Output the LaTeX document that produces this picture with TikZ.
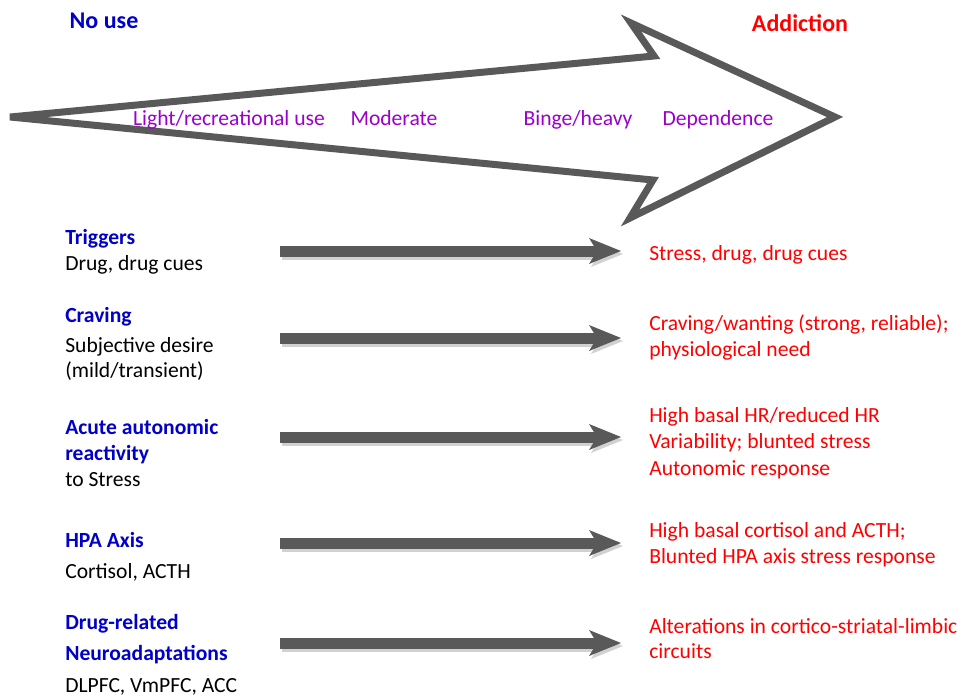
\documentclass[tikz,border=0pt]{standalone}
\usepackage{fontspec}
\setmainfont{Carlito}
\usetikzlibrary{arrows.meta}
\definecolor{arrowgray}{HTML}{595959}
\definecolor{titleblue}{HTML}{0000C8}
\definecolor{labred}{HTML}{FF0000}
\definecolor{labpurple}{HTML}{9900CC}
\tikzset{
  txt/.style={inner sep=0pt, anchor=base west, font=\fontsize{16.2}{19}\selectfont},
  head/.style={txt, text=titleblue, font=\fontsize{16.2}{19}\selectfont\bfseries},
  sub/.style={txt, text=black},
  res/.style={txt, text=labred},
  stage/.style={inner sep=0pt, anchor=base, text=labpurple, font=\fontsize{16.2}{19}\selectfont},
  title/.style={inner sep=0pt, anchor=base, font=\fontsize{18}{21}\selectfont\bfseries},
  bigarrow/.style={draw=arrowgray, line width=5.25pt},
  grayarrow/.style={draw=arrowgray, line width=8.25pt,
    -{Stealth[length=24pt,width=19.5pt,inset=6pt,line width=0pt]}},
  shadowarrow/.style={draw=black, opacity=0.18, line width=8.25pt,
    -{Stealth[length=24pt,width=19.5pt,inset=6pt,line width=0pt]}}
}
\begin{document}
\begin{tikzpicture}[x=0.75pt,y=-0.75pt]
\useasboundingbox (0,0) rectangle (963,697);
% big arrow
\coordinate (tail) at (10,117);
\coordinate (shu) at (654,56);
\coordinate (bu) at (631,23);
\coordinate (tip) at (835,117);
\coordinate (bl) at (630,218);
\coordinate (shl) at (653,180);
\draw[bigarrow] (tail) -- (shu) -- (bu) -- (tip) -- (bl) -- (shl) -- cycle;
% titles
\node[title, text=titleblue] (nouse) at (104,28) {No use};
\node[title, text=labred] (addiction) at (800,31) {Addiction};
% stages
\node[stage] (light) at (229,125) {Light/recreational use};
\node[stage] (moderate) at (394,125) {Moderate};
\node[stage] (binge) at (578,125) {Binge/heavy};
\node[stage] (dependence) at (718,125) {Dependence};
% left labels
\node[head] (trig) at (65,244) {Triggers};
\node[sub] (trig2) at (65,270) {Drug, drug cues};
\node[head] (crav) at (65,322) {Craving};
\node[sub] (crav2) at (65,352) {Subjective desire};
\node[sub] (crav3) at (65,377) {(mild/transient)};
\node[head] (auto) at (65,434) {Acute autonomic};
\node[head] (auto2) at (65,460) {reactivity};
\node[sub] (auto3) at (65,486) {to Stress};
\node[head] (hpa) at (65,547) {HPA Axis};
\node[sub] (hpa2) at (65,578) {Cortisol, ACTH};
\node[head] (neuro) at (65,629) {Drug-related};
\node[head] (neuro2) at (65,660) {Neuroadaptations};
\node[sub] (neuro3) at (65,692) {DLPFC, VmPFC, ACC};
% right labels
\node[res] (r1) at (649,260) {Stress, drug, drug cues};
\node[res] (r2) at (649,330) {Craving/wanting (strong, reliable);};
\node[res] (r2b) at (649,356) {physiological need};
\node[res] (r3) at (649,422) {High basal HR/reduced HR};
\node[res] (r3b) at (649,448) {Variability; blunted stress};
\node[res] (r3c) at (649,475) {Autonomic response};
\node[res] (r4) at (649,537) {High basal cortisol and ACTH;};
\node[res] (r4b) at (649,563) {Blunted HPA axis stress response};
\node[res] (r5) at (649,633) {Alterations in cortico-striatal-limbic};
\node[res] (r5b) at (649,658) {circuits};
% gray arrows
\foreach \i/\y in {1/251,2/338,3/437,4/543,5/643}{
  \coordinate (s\i) at (280,\y);
  \coordinate (e\i) at (621,\y);
  \draw[shadowarrow] ([shift={(2,3)}]s\i) -- ([shift={(2,3)}]e\i);
  \draw[grayarrow] (s\i) -- (e\i);
}
\end{tikzpicture}
\end{document}
